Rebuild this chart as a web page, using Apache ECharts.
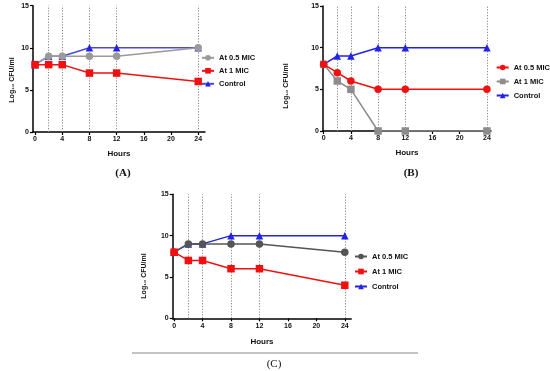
<!DOCTYPE html>
<html>
<head>
<meta charset="utf-8">
<script src="https://cdn.jsdelivr.net/npm/echarts@6/dist/echarts.min.js"></script>
<style>html,body{margin:0;padding:0;background:#fff;}#c{width:550px;height:371px;}</style>
</head>
<body>
<div id="c"></div>
<script>
var hours = [0, 2, 4, 8, 12, 24];
var xTicks = [0, 4, 8, 12, 16, 20, 24];
var dottedHours = [2, 4, 8, 12, 24];
var legendNames = ['At 0.5 MIC', 'At 1 MIC', 'Control'];
var panelLabels = ['(A)', '(B)', '(C)'];

var aHalfMIC = [8, 9, 9, 9, 9, 10];
var aOneMIC = [8, 8, 8, 7, 7, 6];
var aControl = [8, 9, 9, 10, 10, 10];

var bHalfMIC = [8, 7, 6, 5, 5, 5];
var bOneMIC = [8, 6, 5, 0, 0, 0];
var bControl = [8, 9, 9, 10, 10, 10];

var cHalfMIC = [8, 9, 9, 9, 9, 8];
var cOneMIC = [8, 7, 7, 6, 6, 4];
var cControl = [8, 9, 9, 10, 10, 10];

function pairs(ys) { return hours.map(function (h, i) { return [h, ys[i]]; }); }

var RED = '#f01010', BLUE = '#2323e6';
var panels = [
  { key: 'A', grid: { left: 33, top: 5.7, width: 172, height: 126.3 }, xmin: -0.3, xmax: 25,
    legend: { left: 201, top: 53.8, gap: 5 },
    series: [
      { n: 'Control', d: aControl, c: BLUE, s: 'triangle', lc: '#4a4ad8' },
      { n: 'At 0.5 MIC', d: aHalfMIC, c: '#9a9a9a', s: 'circle' },
      { n: 'At 1 MIC', d: aOneMIC, c: RED, s: 'rect' }
    ], yname: [12, 80], xname: 18, label: [123, 173, 'bold'] },
  { key: 'B', grid: { left: 323, top: 6, width: 168, height: 125 }, xmin: -0.1, xmax: 24.6,
    legend: { left: 495.7, top: 63.5, gap: 6 },
    series: [
      { n: 'Control', d: bControl, c: BLUE, s: 'triangle' },
      { n: 'At 1 MIC', d: bOneMIC, c: '#8c8c8c', s: 'rect' },
      { n: 'At 0.5 MIC', d: bHalfMIC, c: RED, s: 'circle' }
    ], yname: [286, 86], xname: 18, label: [411, 173, 'bold'] },
  { key: 'C', grid: { left: 172.7, top: 194.3, width: 178.5, height: 124 }, xmin: -0.2, xmax: 24.9,
    legend: { left: 354, top: 252.5, gap: 7 },
    series: [
      { n: 'Control', d: cControl, c: BLUE, s: 'triangle' },
      { n: 'At 0.5 MIC', d: cHalfMIC, c: '#555555', s: 'circle' },
      { n: 'At 1 MIC', d: cOneMIC, c: RED, s: 'rect' }
    ], yname: [144, 276], xname: 19, label: [274, 364, 'normal'] }
];

var option = { animation: false, grid: [], xAxis: [], yAxis: [], series: [], legend: [], graphic: [] };
var FONT = 'Liberation Sans, Arial, sans-serif';

panels.forEach(function (p, i) {
  option.grid.push(Object.assign({ containLabel: false }, p.grid));
  option.xAxis.push({
    type: 'value', gridIndex: i, min: p.xmin, max: p.xmax,
    name: 'Hours', nameLocation: 'middle', nameGap: p.xname,
    nameTextStyle: { fontFamily: FONT, fontWeight: 'bold', fontSize: 8, color: '#111' },
    axisLine: { onZero: false, lineStyle: { color: '#000', width: 1.5 } },
    axisTick: { show: true, inside: false, length: 3, lineStyle: { color: '#000', width: 1.2 }, customValues: xTicks },
    axisLabel: { fontFamily: FONT, fontWeight: 'bold', fontSize: 7, color: '#111', margin: 4, customValues: xTicks },
    splitLine: { show: false }
  });
  option.yAxis.push({
    type: 'value', gridIndex: i, min: 0, max: 15, interval: 5,
    axisLine: { show: true, onZero: false, lineStyle: { color: '#000', width: 1.5 } },
    axisTick: { show: true, inside: false, length: 3, lineStyle: { color: '#000', width: 1.2 } },
    axisLabel: { fontFamily: FONT, fontWeight: 'bold', fontSize: 7, color: '#111', margin: 4 },
    splitLine: { show: false }
  });
  p.series.forEach(function (s, j) {
    var ser = {
      type: 'line', name: p.key + '|' + s.n, xAxisIndex: i, yAxisIndex: i,
      data: pairs(s.d), symbol: s.s, symbolSize: 7.5,
      itemStyle: { color: s.c }, lineStyle: { color: s.lc || s.c, width: 1.5 },
      z: 3 + j
    };
    if (j === 0) {
      ser.markLine = {
        silent: true, symbol: ['none', 'none'], label: { show: false },
        lineStyle: { type: [1.2, 1.6], color: '#888', width: 1 },
        data: dottedHours.map(function (h) { return { xAxis: h }; }),
        z: 1
      };
    }
    option.series.push(ser);
  });
  option.legend.push({
    orient: 'vertical', left: p.legend.left, top: p.legend.top, padding: 0,
    itemWidth: 12, itemHeight: 7, itemGap: p.legend.gap,
    data: legendNames.map(function (n) { return p.key + '|' + n; }),
    formatter: function (name) { return name.split('|')[1]; },
    textStyle: { fontFamily: FONT, fontWeight: 'bold', fontSize: 7.5, color: '#111', padding: [0, 0, 0, 0] },
    selectedMode: false
  });
  option.graphic.push({
    type: 'text', x: p.yname[0], y: p.yname[1], rotation: Math.PI / 2,
    style: { text: 'Log\u2081\u2080 CFU/ml', fontFamily: FONT, fontWeight: 'bold', fontSize: 7, fill: '#111',
      align: 'center', verticalAlign: 'middle' }
  });
  option.graphic.push({
    type: 'text', x: p.label[0], y: p.label[1],
    style: { text: panelLabels[i], fontFamily: 'Liberation Serif, Times New Roman, serif', fontWeight: p.label[2],
      fontSize: 11, fill: '#111', align: 'center', verticalAlign: 'middle' }
  });
});

option.graphic.push({
  type: 'line', shape: { x1: 132, y1: 353, x2: 418, y2: 353 },
  style: { stroke: '#888', lineWidth: 1 }
});

var chart = echarts.init(document.getElementById('c'), null, { renderer: 'canvas' });
chart.setOption(option);
</script>
</body>
</html>
